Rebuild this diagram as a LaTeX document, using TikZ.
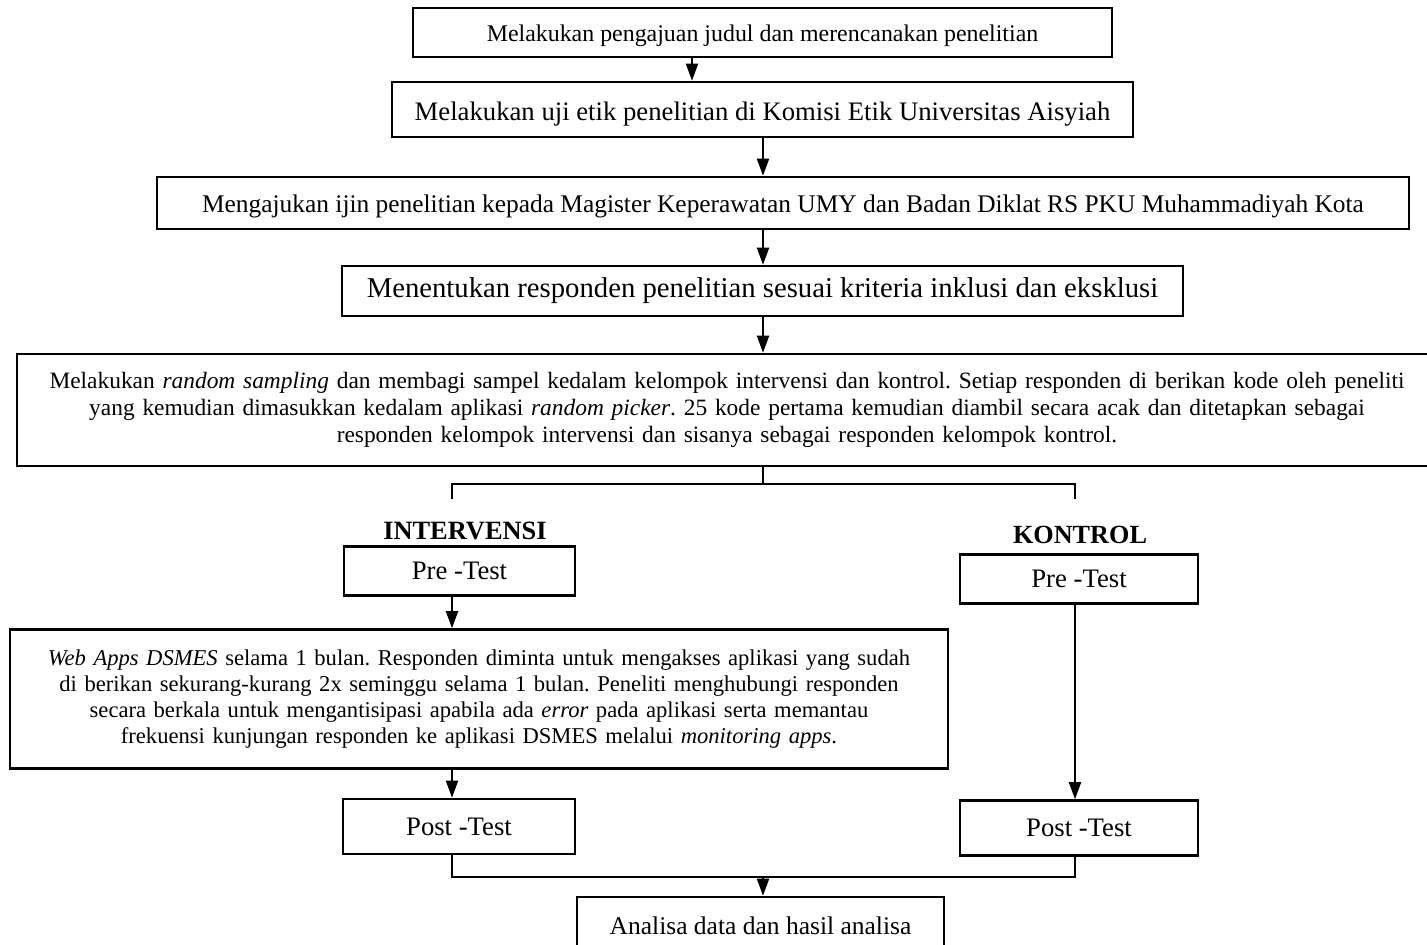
\documentclass[tikz,border=0pt]{standalone}
\usepackage{fontspec}
\setmainfont{Liberation Serif}
\usetikzlibrary{arrows, arrows.meta}
\usetikzlibrary{calc}

\tikzset{
  kotak/.style={draw, line width=2.6pt, inner sep=0pt, align=center},
  panah/.style={line width=1.9pt, -{Triangle[length=17pt,width=12pt]}},
  garis/.style={line width=1.9pt},
}

\begin{document}
\frenchspacing
\begin{tikzpicture}[x=1pt, y=-1pt]
  \useasboundingbox (0,0) rectangle (1427,945);

  \node[kotak, minimum width=699pt, minimum height=49pt, text height=23.3pt, text depth=5.2pt, font=\fontsize{23.9}{28}\selectfont] (1) at (762.5,32.5) {Melakukan pengajuan judul dan merencanakan penelitian};
  \node[kotak, minimum width=741pt, minimum height=55pt, text height=27.2pt, text depth=5.8pt, font=\fontsize{26.7}{30}\selectfont] (2) at (762.5,109.5) {Melakukan uji etik penelitian di Komisi Etik Universitas Aisyiah};
  \node[kotak, minimum width=1252pt, minimum height=52pt, text height=24.3pt, text depth=5.5pt, font=\fontsize{25.4}{30}\selectfont] (3) at (783,203) {Mengajukan ijin penelitian kepada Magister Keperawatan UMY dan Badan Diklat RS PKU Muhammadiyah Kota};
  \node[kotak, minimum width=841pt, minimum height=50pt, font=\fontsize{28.7}{32}\selectfont] (4) at (762.5,291) {Menentukan responden penelitian sesuai kriteria inklusi dan eksklusi};
  \node[kotak, minimum width=1420pt, minimum height=112pt, text width=1415pt, font=\fontsize{23.4}{27}\selectfont] (5) at (727,410) {Melakukan \textit{random sampling} dan membagi sampel kedalam kelompok intervensi dan kontrol. Setiap responden di berikan kode oleh peneliti\\ yang kemudian dimasukkan kedalam aplikasi \textit{random picker}. 25 kode pertama kemudian diambil secara acak dan ditetapkan sebagai\\ responden kelompok intervensi dan sisanya sebagai responden kelompok kontrol.};

  \node[font=\fontsize{26.4}{30}\selectfont\bfseries] (6) at (465,531) {INTERVENSI};
  \node[font=\fontsize{26.2}{30}\selectfont\bfseries] (7) at (1080,535) {KONTROL};

  \node[kotak, minimum width=231pt, minimum height=49pt, font=\fontsize{26.7}{30}\selectfont] (8) at (459.5,571) {Pre -Test};
  \node[kotak, minimum width=238pt, minimum height=49pt, font=\fontsize{26.7}{30}\selectfont] (9) at (1079,579) {Pre -Test};
  \node[kotak, minimum width=938pt, minimum height=139pt, text width=930pt, font=\fontsize{22.6}{26}\selectfont] (10) at (479,699) {\textit{Web Apps DSMES} selama 1 bulan. Responden diminta untuk mengakses aplikasi yang sudah\\ di berikan sekurang-kurang 2x seminggu selama 1 bulan. Peneliti menghubungi responden\\ secara berkala untuk mengantisipasi apabila ada \textit{error} pada aplikasi serta memantau\\ frekuensi kunjungan responden ke aplikasi DSMES melalui \textit{monitoring apps}.};
  \node[kotak, minimum width=232pt, minimum height=55pt, font=\fontsize{26.7}{30}\selectfont] (11) at (459,826.5) {Post -Test};
  \node[kotak, minimum width=238pt, minimum height=55pt, font=\fontsize{26.7}{30}\selectfont] (12) at (1079,828) {Post -Test};
  \node[kotak, minimum width=367pt, minimum height=58pt, font=\fontsize{25.5}{30}\selectfont] (13) at (760.5,926) {Analisa data dan hasil analisa};

  \coordinate (tengah) at (763,484);
  \coordinate (kiri) at (452,499);
  \coordinate (kanan) at (1075,499);
  \coordinate (bawah) at (763,877);

  \draw[panah] ([xshift=-70.5pt]1.south) -- ([xshift=-70.5pt]1.south |- 2.north);
  \draw[panah] (tengah |- 2.south) -- (tengah |- 3.north);
  \draw[panah] (tengah |- 3.south) -- (tengah |- 4.north);
  \draw[panah] (tengah |- 4.south) -- (tengah |- 5.north);
  \draw[garis] (tengah |- 5.south) -- (tengah);
  \draw[garis] (kiri) -- (kiri |- tengah) -- (kanan |- tengah) -- (kanan);
  \draw[panah] (8.south -| kiri) -- (kiri |- 10.north);
  \draw[panah] (10.south -| kiri) -- (kiri |- 11.north);
  \draw[panah] (9.south -| kanan) -- (kanan |- 12.north);
  \draw[garis] (11.south -| kiri) -- (kiri |- bawah) -- (kanan |- bawah) -- (12.south -| kanan);
  \draw[panah] (bawah) -- (bawah |- 13.north);
\end{tikzpicture}
\end{document}
